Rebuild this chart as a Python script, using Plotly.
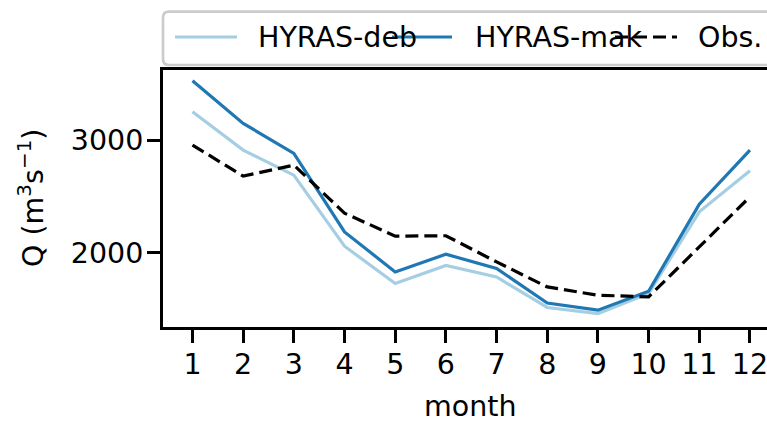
import plotly.graph_objects as go

months = list(range(1, 13))
hyras_deb = [3251, 2911, 2689, 2059, 1729, 1888, 1787, 1516, 1462, 1640, 2364, 2728]
hyras_mak = [3526, 3148, 2882, 2186, 1831, 1988, 1862, 1556, 1492, 1660, 2432, 2911]
obs = [2956, 2680, 2778, 2352, 2148, 2152, 1920, 1698, 1625, 1610, 2053, 2497]
y_ticks = [2000, 3000]
labels = ["HYRAS-deb", "HYRAS-mak", "Obs."]

c_deb = "#a6cee3"
c_mak = "#1f78b4"
c_obs = "black"
FONT = "DejaVu Sans"
FS = 28.5

fig = go.Figure()
fig.add_trace(go.Scatter(x=months, y=hyras_deb, mode="lines", line=dict(color=c_deb, width=3.2), name=labels[0]))
fig.add_trace(go.Scatter(x=months, y=hyras_mak, mode="lines", line=dict(color=c_mak, width=3.2), name=labels[1]))
fig.add_trace(go.Scatter(x=months, y=obs, mode="lines", line=dict(color=c_obs, width=3.2, dash="13px,6px"), name=labels[2]))

W, H = 767, 421
L, T = 163, 70
B = H - 327
R = 0
pw, ph = W - L - R, H - T - B

def px(x):  # page pixel -> paper
    return (x - L) / pw

def py(y):
    return (H - B - y) / ph

fig.update_layout(
    width=W, height=H,
    margin=dict(l=L, r=R, t=T, b=B, pad=0),
    paper_bgcolor="white", plot_bgcolor="white",
    showlegend=False,
    font=dict(family=FONT, size=FS, color="black"),
    xaxis=dict(range=[0.418, 12.336], tickvals=months, ticktext=[str(m) for m in months],
               showgrid=False, zeroline=False, showline=True, linecolor="black", linewidth=3,
               mirror=True, ticks="outside", ticklen=13, tickwidth=3, tickcolor="black",
               ticklabelstandoff=-3, ticklabeloverflow="allow",
               tickfont=dict(family=FONT, size=FS, color="black")),
    yaxis=dict(range=[1343, 3621], tickvals=y_ticks, ticktext=[str(v) for v in y_ticks],
               showgrid=False, zeroline=False, showline=True, linecolor="black", linewidth=3,
               mirror=False, ticks="outside", ticklen=13, tickwidth=3, tickcolor="black",
               ticklabelstandoff=-2, tickfont=dict(family=FONT, size=FS, color="black")),
)

shapes = []
r = 6
bx0, bx1, by0, by1 = 163, 800, 11.7, 65
path = (f"M {px(bx0 + r)},{py(by1)} L {px(bx1 - r)},{py(by1)} "
        f"Q {px(bx1)},{py(by1)} {px(bx1)},{py(by1 - r)} L {px(bx1)},{py(by0 + r)} "
        f"Q {px(bx1)},{py(by0)} {px(bx1 - r)},{py(by0)} L {px(bx0 + r)},{py(by0)} "
        f"Q {px(bx0)},{py(by0)} {px(bx0)},{py(by0 + r)} L {px(bx0)},{py(by1 - r)} "
        f"Q {px(bx0)},{py(by1)} {px(bx0 + r)},{py(by1)} Z")
shapes.append(dict(type="path", xref="paper", yref="paper", path=path,
                   line=dict(color="#cccccc", width=2.7), fillcolor="rgba(255,255,255,0.8)", layer="above"))

legend_items = [
    (175, 237, 257, c_deb, "solid"),
    (392, 452, 474, c_mak, "solid"),
    (615, 677, 697, c_obs, "13px,6px"),
]
annotations = []
ly = 37
for (lx0, lx1, tx, col, dash), lab in zip(legend_items, labels):
    annotations.append(dict(text=lab, x=px(tx), y=py(ly), xref="paper", yref="paper",
                            xanchor="left", yanchor="middle", showarrow=False, borderpad=0,
                            font=dict(family=FONT, size=FS, color="black")))
for (lx0, lx1, tx, col, dash), lab in zip(legend_items, labels):
    shapes.append(dict(type="line", xref="paper", yref="paper", x0=px(lx0), x1=px(lx1),
                       y0=py(ly), y1=py(ly), line=dict(color=col, width=3.2, dash=dash), layer="above"))

annotations.append(dict(text="Q (m<sup>3</sup>s<sup>−1</sup>)", x=px(31), y=py(198), xref="paper", yref="paper",
                        xanchor="center", yanchor="middle", textangle=-90, showarrow=False,
                        font=dict(family=FONT, size=FS, color="black")))
annotations.append(dict(text="month", x=px(470.5), y=py(406), xref="paper", yref="paper",
                        xanchor="center", yanchor="middle", showarrow=False, borderpad=0,
                        font=dict(family=FONT, size=FS, color="black")))

fig.update_layout(shapes=shapes, annotations=annotations)
fig.write_html("out.html", config={"displayModeBar": False},
               post_script="document.body.style.margin='0';document.body.style.overflow='hidden';")
